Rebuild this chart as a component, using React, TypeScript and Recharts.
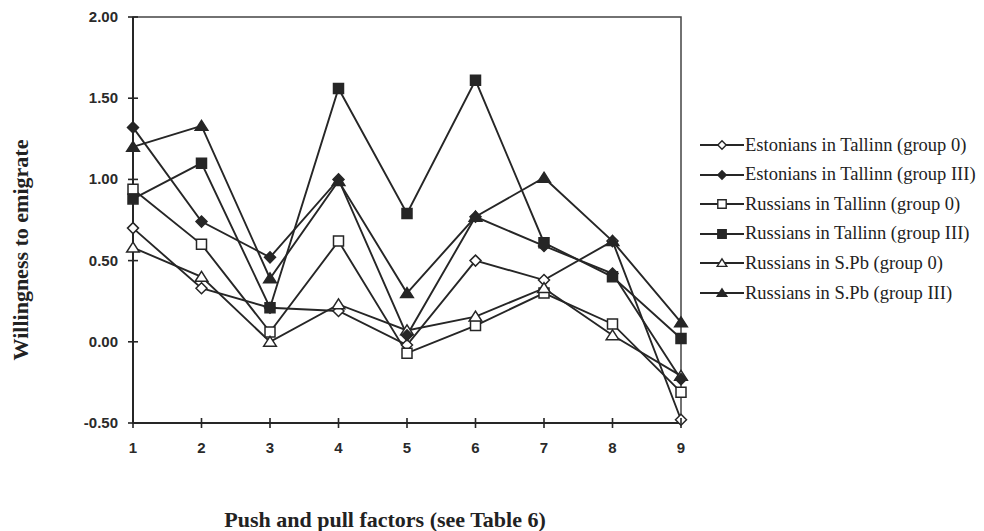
import React from 'react';
import { LineChart, Line, XAxis, YAxis, ReferenceArea } from 'recharts';

const factors = [1, 2, 3, 4, 5, 6, 7, 8, 9];
const estonians0 = [0.70, 0.33, 0.21, 0.19, -0.02, 0.50, 0.38, 0.62, -0.48];
const estoniansIII = [1.32, 0.74, 0.52, 1.00, 0.04, 0.77, 0.59, 0.42, -0.23];
const russiansTallinn0 = [0.94, 0.60, 0.06, 0.62, -0.07, 0.10, 0.30, 0.11, -0.31];
const russiansTallinnIII = [0.88, 1.10, 0.21, 1.56, 0.79, 1.61, 0.61, 0.40, 0.02];
const russiansSPb0 = [0.58, 0.40, 0.00, 0.23, 0.07, 0.155, 0.33, 0.04, -0.21];
const russiansSPbIII = [1.20, 1.33, 0.39, 0.99, 0.30, 0.77, 1.01, 0.62, 0.12];
const yTicks = [-0.5, 0, 0.5, 1, 1.5, 2];

const data = factors.map((f, i) => ({
  x: f,
  est0: estonians0[i],
  estIII: estoniansIII[i],
  rus0: russiansTallinn0[i],
  rusIII: russiansTallinnIII[i],
  spb0: russiansSPb0[i],
  spbIII: russiansSPbIII[i],
}));

const INK = '#262626';
const AXIS_X = 125;
const AXIS_Y = 415;

type Shape = 'diamond' | 'square' | 'triangle';

function markerPath(shape: Shape, cx: number, cy: number, s: number) {
  if (shape === 'diamond') {
    return `M${cx},${cy - s} L${cx + s},${cy} L${cx},${cy + s} L${cx - s},${cy} Z`;
  }
  if (shape === 'square') {
    return `M${cx - s},${cy - s} L${cx + s},${cy - s} L${cx + s},${cy + s} L${cx - s},${cy + s} Z`;
  }
  return `M${cx},${cy - s} L${cx + s * 1.15},${cy + s * 0.8} L${cx - s * 1.15},${cy + s * 0.8} Z`;
}

const makeDot = (shape: Shape, filled: boolean) => (props: any) => {
  const { cx, cy, index } = props;
  if (cx == null || cy == null) return <g key={index} />;
  const s = shape === 'diamond' ? 5.5 : shape === 'square' ? 5 : 5.5;
  return (
    <path
      key={index}
      d={markerPath(shape, cx, cy, s)}
      fill={filled ? INK : '#ffffff'}
      stroke={INK}
      strokeWidth={1.5}
    />
  );
};

const series = [
  { key: 'est0', name: 'Estonians in Tallinn (group 0)', shape: 'diamond' as Shape, filled: false },
  { key: 'estIII', name: 'Estonians in Tallinn (group III)', shape: 'diamond' as Shape, filled: true },
  { key: 'rus0', name: 'Russians in Tallinn (group 0)', shape: 'square' as Shape, filled: false },
  { key: 'rusIII', name: 'Russians in Tallinn (group III)', shape: 'square' as Shape, filled: true },
  { key: 'spb0', name: 'Russians in S.Pb (group 0)', shape: 'triangle' as Shape, filled: false },
  { key: 'spbIII', name: 'Russians in S.Pb (group III)', shape: 'triangle' as Shape, filled: true },
];

const drawOrder = ['est0', 'rus0', 'spb0', 'estIII', 'rusIII', 'spbIII'];

const renderYTick = (props: any) => {
  const { x, y, payload } = props;
  return (
    <g>
      <rect x={AXIS_X - 5} y={y - 0.8} width={10} height={1.6} fill={INK} />
      <text
        x={x}
        y={y + 5}
        textAnchor="end"
        fontFamily="'Liberation Sans', Arial, sans-serif"
        fontWeight="bold"
        fontSize={15}
        fill="#2a2a2a"
      >
        {Number(payload.value).toFixed(2)}
      </text>
    </g>
  );
};

const renderXTick = (props: any) => {
  const { x, y, payload } = props;
  return (
    <g>
      <rect x={x - 0.8} y={AXIS_Y - 5} width={1.6} height={10} fill={INK} />
      <text
        x={x}
        y={y + 12}
        textAnchor="middle"
        fontFamily="'Liberation Sans', Arial, sans-serif"
        fontWeight="bold"
        fontSize={15}
        fill="#2a2a2a"
      >
        {payload.value}
      </text>
    </g>
  );
};

const LegendIcon = ({ shape, filled }: { shape: Shape; filled: boolean }) => (
  <svg width={44} height={14} style={{ display: 'block' }}>
    <line x1={0} x2={44} y1={7} y2={7} stroke={INK} strokeWidth={1.8} />
    <path d={markerPath(shape, 22, 7, 4.2)} fill={filled ? INK : '#fff'} stroke={INK} strokeWidth={1.4} />
  </svg>
);

export default function App() {
  return (
    <div style={{ position: 'relative', width: 976, height: 523 }}>
      <LineChart
        width={976}
        height={515}
        data={data}
        margin={{ top: 9, right: 303, left: 0, bottom: 70 }}
      >
        <XAxis
          dataKey="x"
          type="number"
          domain={[1, 9]}
          ticks={factors}
          height={30}
          tickSize={6}
          tickMargin={12}
          tickLine={false}
          axisLine={{ stroke: INK, strokeWidth: 2 }}
          tick={renderXTick}
          interval={0}
        />
        <YAxis
          type="number"
          domain={[-0.5, 2]}
          ticks={yTicks}
          width={125}
          tickSize={6}
          tickMargin={9}
          tickLine={false}
          axisLine={{ stroke: INK, strokeWidth: 2 }}
          tick={renderYTick}
          interval={0}
        />
        <ReferenceArea x1={1} x2={9} y1={-0.5} y2={2} fill="none" stroke="#444" strokeWidth={1.5} />
        {drawOrder.map((k) => {
          const s = series.find((q) => q.key === k)!;
          return (
            <Line
              key={s.key}
              dataKey={s.key}
              name={s.name}
              type="linear"
              stroke={INK}
              strokeWidth={1.9}
              dot={makeDot(s.shape, s.filled)}
              activeDot={false}
              isAnimationActive={false}
            />
          );
        })}
      </LineChart>
      <div
        style={{
          position: 'absolute',
          left: 13,
          top: 242,
          transform: 'translate(-50%, -50%) rotate(-90deg)',
          whiteSpace: 'nowrap',
          fontFamily: "'Liberation Serif', 'Times New Roman', serif",
          fontWeight: 'bold',
          fontSize: 22,
          color: '#222',
        }}
      >
        Willingness to emigrate
      </div>
      <div
        style={{
          position: 'absolute',
          left: 377,
          top: 499,
          transform: 'translateX(-50%)',
          whiteSpace: 'nowrap',
          fontFamily: "'Liberation Serif', 'Times New Roman', serif",
          fontWeight: 'bold',
          fontSize: 22,
          color: '#222',
        }}
      >
        Push and pull factors (see Table 6)
      </div>
      {series.map((s, i) => (
        <div
          key={s.key}
          style={{
            position: 'absolute',
            left: 692,
            top: 137 + i * 29.6 - 11,
            height: 22,
            display: 'flex',
            alignItems: 'center',
            whiteSpace: 'nowrap',
            fontFamily: "'Liberation Serif', 'Times New Roman', serif",
            fontSize: 18.5,
            color: '#222',
          }}
        >
          <LegendIcon shape={s.shape} filled={s.filled} />
          <span style={{ marginLeft: 1 }}>{s.name}</span>
        </div>
      ))}
    </div>
  );
}
